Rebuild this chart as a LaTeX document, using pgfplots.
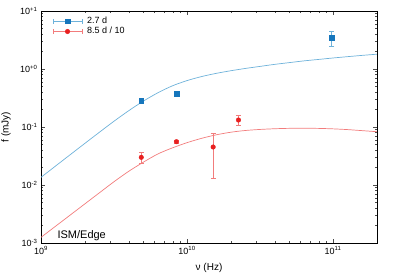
\documentclass[border=0pt]{standalone}
\usepackage{fontspec}
\setmainfont{Liberation Sans}
\usepackage{pgfplots}
\pgfplotsset{compat=1.18}
\definecolor{bluedark}{RGB}{22,118,188}
\definecolor{bluelight}{RGB}{110,178,218}
\definecolor{reddark}{RGB}{232,32,32}
\definecolor{redlight}{RGB}{242,124,124}
\begin{document}
\begin{tikzpicture}
\path[use as bounding box] (0,0) rectangle (395pt,275pt);
\begin{axis}[
  at={(41pt,32pt)}, anchor=south west,
  scale only axis, width=336pt, height=232pt,
  xmode=log, ymode=log,
  xmin=1e9, xmax=2e11, ymin=1e-3, ymax=10,
  axis line style={line width=0.8pt},
  tick align=inside,
  major tick length=4pt, minor tick length=2pt,
  every tick/.style={black!70, line width=0.5pt},
  xtick={1e9,1e10,1e11},
  xticklabels={10\textsuperscript{9},10\textsuperscript{10},10\textsuperscript{11}},
  ytick={1e-3,1e-2,1e-1,1,10},
  yticklabels={10\textsuperscript{-3},10\textsuperscript{-2},10\textsuperscript{-1},10\textsuperscript{+0},10\textsuperscript{+1}},
  tick label style={font=\fontsize{9}{10}\selectfont},
  xlabel={ν (Hz)}, ylabel={f (mJy)},
  label style={font=\fontsize{9.5}{11}\selectfont},
  every axis x label/.style={at={(rel axis cs:0.5,-0.108)}, anchor=center},
  every axis y label/.style={at={(rel axis cs:-0.104,0.5)}, rotate=90, anchor=center},
  legend style={draw=none, fill=none, at={(rel axis cs:0,1)}, anchor=north west,
    xshift=8.5pt, yshift=-3pt, font=\fontsize{9}{10}\selectfont,
    row sep=0pt, nodes={inner sep=1pt, text height=6.2pt, text depth=2pt}},
  legend cell align=left,
]
% model curves
\addplot[bluelight, line width=0.7pt, smooth, forget plot] coordinates {
(1e9,0.01358) (1.2589e9,0.02128) (1.5849e9,0.03334) (1.9953e9,0.05212)
(2.5119e9,0.08128) (3.1623e9,0.1259) (3.9811e9,0.1905) (5.0119e9,0.2786)
(6.3096e9,0.389) (7.9433e9,0.5129) (1e10,0.631) (1.2589e10,0.7413)
(1.5849e10,0.8414) (1.9953e10,0.9333) (2.5119e10,1.023) (3.1623e10,1.109)
(3.9811e10,1.202) (5.0119e10,1.288) (6.3096e10,1.380) (7.9433e10,1.462)
(1e11,1.549) (1.2589e11,1.633) (1.5849e11,1.718) (1.9953e11,1.799)
};
\addplot[redlight, line width=0.7pt, smooth, forget plot] coordinates {
(1e9,0.001253) (1.2589e9,0.00195) (1.5849e9,0.003034) (1.9953e9,0.004721)
(2.5119e9,0.007345) (3.1623e9,0.0114) (3.9811e9,0.01718) (5.0119e9,0.02466)
(6.3096e9,0.03428) (7.9433e9,0.04365) (1e10,0.0537) (1.2589e10,0.06383)
(1.5849e10,0.07328) (1.9953e10,0.08128) (2.5119e10,0.0871) (3.1623e10,0.09078)
(3.9811e10,0.09333) (5.0119e10,0.09484) (6.3096e10,0.09528) (7.9433e10,0.09462)
(1e11,0.0929) (1.2589e11,0.09016) (1.5849e11,0.0865) (1.9953e11,0.08299)
};
% data
\addplot[bluelight, only marks, mark=square*, mark size=2.4pt,
  mark options={fill=bluedark, draw=bluedark},
  legend image code/.code={
    \draw[bluelight, line width=0.6pt] (0pt,0pt) -- (29pt,0pt);
    \draw[bluelight, line width=0.6pt] (0pt,-2.5pt) -- (0pt,2.5pt);
    \draw[bluelight, line width=0.6pt] (29pt,-2.5pt) -- (29pt,2.5pt);
    \fill[bluedark] (12.1pt,-2.4pt) rectangle (16.9pt,2.4pt);
    \path (33pt,0pt);
  },
  error bars/.cd, y dir=both, y explicit,
  error bar style={bluelight, line width=0.6pt},
  error mark options={bluelight, line width=0.6pt, mark size=2.5pt, rotate=90},
] coordinates {
(4.86e9,0.28) +- (0,0.02)
(8.46e9,0.37) +- (0,0.01)
(9.8e10,3.45) +- (0,1.02)
};
\addlegendentry{2.7 d}
\addplot[redlight, only marks, mark=*, mark size=2.3pt,
  mark options={fill=reddark, draw=reddark},
  legend image code/.code={
    \draw[redlight, line width=0.6pt] (0pt,0pt) -- (29pt,0pt);
    \draw[redlight, line width=0.6pt] (0pt,-2.5pt) -- (0pt,2.5pt);
    \draw[redlight, line width=0.6pt] (29pt,-2.5pt) -- (29pt,2.5pt);
    \fill[reddark] (14.5pt,0pt) circle (2.3pt);
    \path (33pt,0pt);
  },
  error bars/.cd, y dir=both, y explicit,
  error bar style={redlight, line width=0.6pt},
  error mark options={redlight, line width=0.6pt, mark size=2.5pt, rotate=90},
] coordinates {
(4.86e9,0.030) +- (0,0.0065)
(8.46e9,0.0558) +- (0,0.003)
(1.51e10,0.0452) +- (0,0.032)
(2.25e10,0.132) +- (0,0.024)
};
\addlegendentry{8.5 d / 10}
\node[anchor=base west, font=\fontsize{11}{12}\selectfont, xshift=13pt, yshift=5pt] at (rel axis cs:0,0) {ISM/Edge};
\end{axis}
\end{tikzpicture}
\end{document}
